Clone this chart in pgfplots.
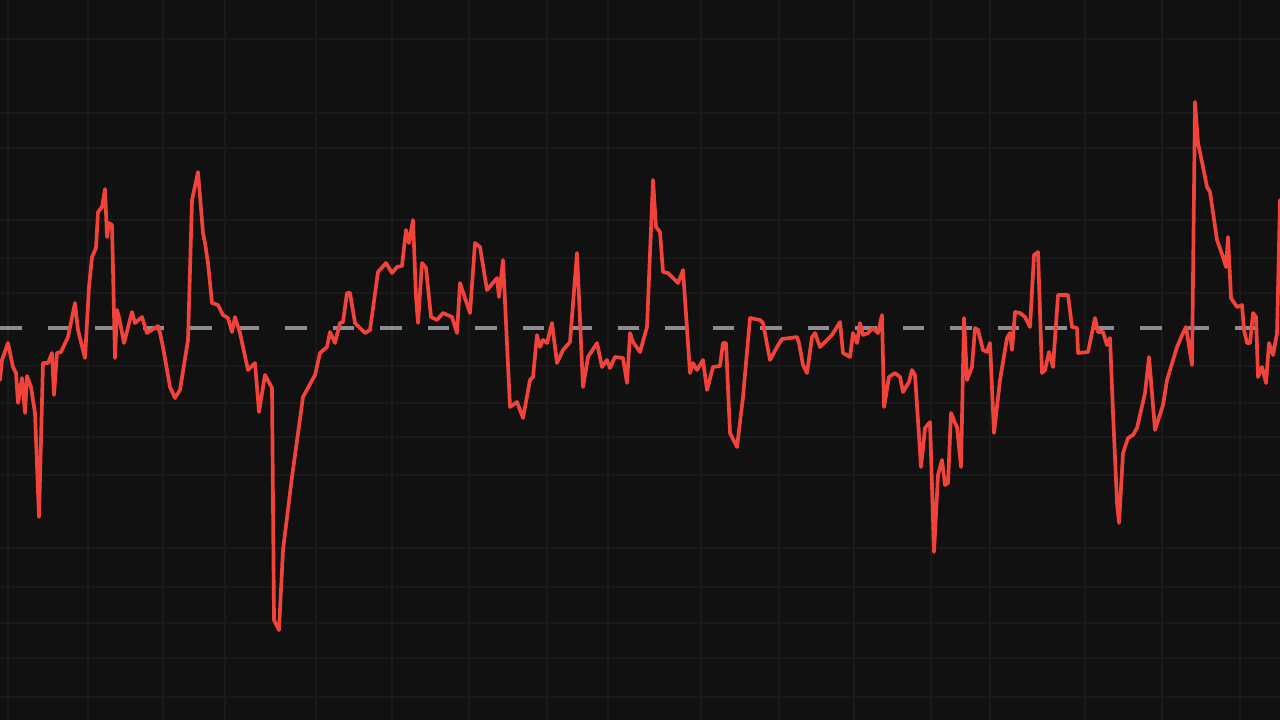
\documentclass[border=0pt]{standalone}
\usepackage{pgfplots}
\pgfplotsset{compat=1.18}
\definecolor{bg}{HTML}{111112}
\definecolor{gridc}{HTML}{1A1A1B}
\definecolor{dashc}{HTML}{8C8C92}
\definecolor{redl}{HTML}{F2433A}
\begin{document}
\begin{tikzpicture}
\begin{axis}[
  scale only axis, width=12.8cm, height=7.2cm,
  xmin=0, xmax=1280, ymin=0, ymax=720, y dir=reverse,
  axis background/.style={fill=bg},
  axis line style={draw=none},
  tick style={draw=none},
  xtick={8,88,163,225,316,392,469,547,608,701,779,854,931,990,1085,1162,1240},
  ytick={39,113,148,220,258,293,366,403,437,475,548,587,623,658,697},
  xticklabels={}, yticklabels={},
  grid=major,
  major grid style={draw=gridc, line width=0.4pt},
  clip=true,
]
\addplot[draw=dashc, line width=1.05pt, dash pattern=on 2.15mm off 2.6mm] coordinates {(0,328) (1280,328)};
\addplot[draw=redl, line width=1.05pt, line join=round, line cap=round] coordinates {
(0,380) (2,360) (8,343) (13,367) (16,373) (18,403) (22,378) (25,413) (27,376) (31,387) (35,413) (39,517)
(43,363) (48,363) (52,353) (54,395) (57,353) (61,352) (68,337) (75,303) (78,330) (85,358) (89,287)
(92,257) (96,248) (98,212) (102,207) (105,189) (107,237) (109,223) (112,225) (115,358) (117,310)
(119,317) (124,343) (132,312) (135,323) (142,317) (147,333) (158,326) (160,333) (163,347) (170,387)
(175,398) (180,390) (188,340) (192,200) (198,172) (203,233) (205,243) (208,263) (212,303) (218,305)
(223,315) (228,318) (232,332) (235,317) (240,333) (248,370) (255,363) (259,412) (265,375) (272,388)
(274,620) (279,630) (283,550) (292,477) (303,397) (315,375) (320,353) (327,347) (330,332) (335,343)
(340,323) (343,322) (347,293) (350,293) (355,323) (360,328) (365,333) (370,330) (378,272) (386,263)
(392,273) (397,267) (402,266) (406,230) (409,243) (413,220) (416,297) (418,323) (422,263) (426,268)
(431,317) (437,320) (443,313) (452,317) (457,333) (460,283) (470,313) (475,243) (480,247) (487,290)
(497,278) (499,297) (503,260) (510,407) (517,402) (523,418) (530,380) (533,377) (537,335) (540,347)
(543,340) (547,343) (552,323) (557,363) (563,350) (570,342) (577,253) (583,387) (588,357) (597,343)
(602,367) (607,360) (610,368) (615,357) (623,358) (627,383) (630,333) (633,342) (640,352) (647,327)
(653,180) (656,227) (660,232) (663,272) (668,273) (673,278) (678,283) (683,270) (690,373) (693,363)
(697,370) (703,360) (707,390) (713,367) (720,366) (723,343) (726,343) (730,433) (737,447) (743,397)
(750,318) (760,320) (763,323) (770,360) (777,347) (782,339) (790,338) (797,337) (799,343) (803,365)
(807,373) (812,337) (815,333) (820,347) (827,340) (832,335) (835,330) (840,322) (843,353) (850,357)
(853,333) (857,343) (860,323) (863,335) (868,333) (873,328) (878,333) (882,315) (884,407) (889,377)
(895,373) (900,377) (903,392) (909,382) (912,370) (915,375) (921,467) (925,428) (930,422) (934,552)
(938,475) (942,460) (945,485) (948,483) (951,413) (955,423) (957,427) (961,467) (964,318) (967,380)
(972,367) (975,328) (978,330) (983,350) (987,352) (990,343) (994,433) (1000,380) (1007,338) (1010,333)
(1012,350) (1015,312) (1020,313) (1025,317) (1030,327) (1034,255) (1038,252) (1042,373) (1045,370)
(1049,352) (1053,367) (1058,295) (1068,295) (1072,327) (1077,328) (1078,353) (1088,352) (1095,318)
(1098,332) (1103,332) (1107,345) (1110,338) (1113,413) (1117,503) (1119,523) (1123,453) (1128,438)
(1133,435) (1137,428) (1145,393) (1149,357) (1155,430) (1163,405) (1167,380) (1177,347) (1183,333)
(1186,327) (1192,365) (1195,102) (1198,143) (1203,167) (1207,187) (1210,192) (1217,240) (1223,257)
(1226,267) (1228,237) (1231,298) (1237,307) (1242,305) (1244,330) (1247,343) (1250,343) (1253,313)
(1256,317) (1258,377) (1262,367) (1266,383) (1269,343) (1273,355) (1277,333) (1280,200)
};
\end{axis}
\pgfresetboundingbox
\path[use as bounding box] (current axis.south west) rectangle (current axis.north east);
\end{tikzpicture}
\end{document}
